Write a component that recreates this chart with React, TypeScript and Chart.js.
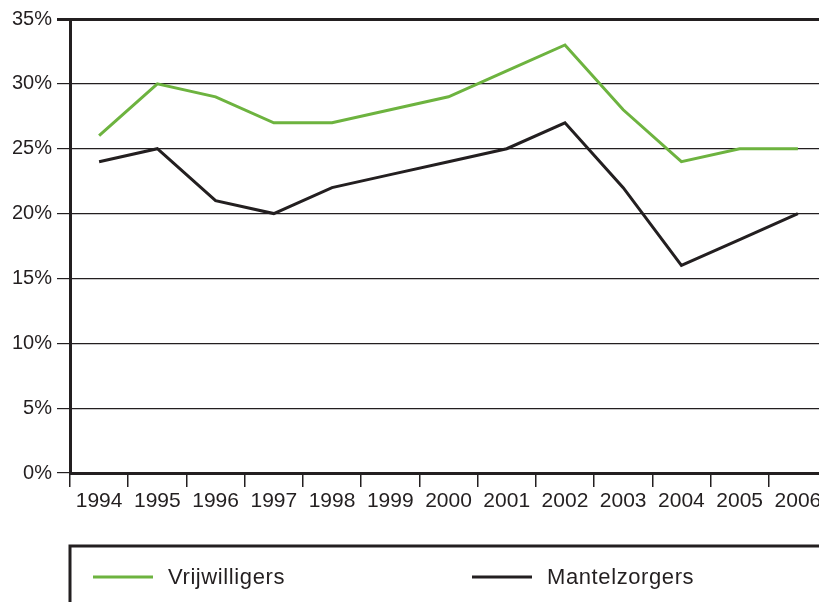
import React, { useEffect, useRef } from "react";
import { Chart, registerables } from "chart.js";

Chart.register(...registerables);

const years = ["1994", "1995", "1996", "1997", "1998", "1999", "2000", "2001", "2002", "2003", "2004", "2005", "2006"];
const vrijwilligers = [26, 30, 29, 27, 27, 28, 29, 31, 33, 28, 24, 25, 25];
const mantelzorgers = [24, 25, 21, 20, 22, 23, 24, 25, 27, 22, 16, 18, 20];
const seriesLabels = ["Vrijwilligers", "Mantelzorgers"];

const GREEN = "#6db33f";
const DARK = "#231f20";
const FONT = "'Liberation Sans', Arial, sans-serif";

const legendPlugin = {
  id: "boxLegend",
  afterDraw(chart: any) {
    const ctx = chart.ctx;
    const left = chart.chartArea.left;
    const top = 546;
    ctx.save();
    ctx.strokeStyle = DARK;
    ctx.lineWidth = 3;
    ctx.beginPath();
    ctx.moveTo(left, chart.height + 5);
    ctx.lineTo(left, top);
    ctx.lineTo(chart.width, top);
    ctx.stroke();
    const y = 577;
    const items = [
      { x: 93, color: GREEN, text: chart.data.datasets[0].label },
      { x: 472, color: DARK, text: chart.data.datasets[1].label },
    ];
    ctx.font = `22px ${FONT}`;
    ctx.textBaseline = "middle";
    ctx.textAlign = "left";
    try { (ctx as any).letterSpacing = "0.6px"; } catch (e) {}
    for (const it of items) {
      ctx.strokeStyle = it.color;
      ctx.lineWidth = 3;
      ctx.beginPath();
      ctx.moveTo(it.x, y);
      ctx.lineTo(it.x + 60, y);
      ctx.stroke();
      ctx.fillStyle = DARK;
      ctx.fillText(it.text, it.x + 75, y + 1);
    }
    ctx.restore();
  },
};

export default function App() {
  const ref = useRef<HTMLCanvasElement>(null);
  useEffect(() => {
    if (!ref.current) return;
    const chart = new Chart(ref.current, {
      type: "line",
      data: {
        labels: years,
        datasets: [
          {
            label: seriesLabels[0],
            data: vrijwilligers,
            borderColor: GREEN,
            backgroundColor: GREEN,
            borderWidth: 3,
            pointRadius: 0,
            tension: 0,
          },
          {
            label: seriesLabels[1],
            data: mantelzorgers,
            borderColor: DARK,
            backgroundColor: DARK,
            borderWidth: 3,
            pointRadius: 0,
            tension: 0,
          },
        ],
      },
      options: {
        responsive: false,
        animation: false,
        layout: { padding: { top: 19, left: 0, right: 0, bottom: 0 } },
        plugins: {
          legend: { display: false },
          tooltip: { enabled: false },
        },
        scales: {
          x: {
            type: "category",
            offset: true,
            afterFit: (s: any) => { s.height = 129; },
            grid: {
              offset: true,
              drawOnChartArea: false,
              drawTicks: true,
              tickLength: 14,
              color: DARK,
              lineWidth: 1.5,
            },
            border: { display: true, color: DARK, width: 3 },
            ticks: {
              color: DARK,
              font: { family: FONT, size: 21 },
              padding: 2,
              maxRotation: 0,
              autoSkip: false,
            },
          },
          y: {
            min: 0,
            max: 35,
            afterFit: (s: any) => { s.width = 70; },
            grid: {
              color: DARK,
              lineWidth: (c: any) => (c.tick && c.tick.value === 35 ? 3 : 1.2),
              drawTicks: true,
              tickLength: 13,
            },
            border: { display: true, color: DARK, width: 3 },
            ticks: {
              stepSize: 5,
              color: DARK,
              font: { family: FONT, size: 20 },
              padding: 5,
              callback: (v: any) => `${v}%`,
            },
          },
        },
      },
      plugins: [legendPlugin],
    });
    return () => chart.destroy();
  }, []);
  return (
    <div style={{ position: "fixed", left: 0, top: 0, width: 819, height: 602, overflow: "hidden", background: "#fff" }}>
      <canvas ref={ref} width={827} height={602} style={{ display: "block" }} />
    </div>
  );
}
